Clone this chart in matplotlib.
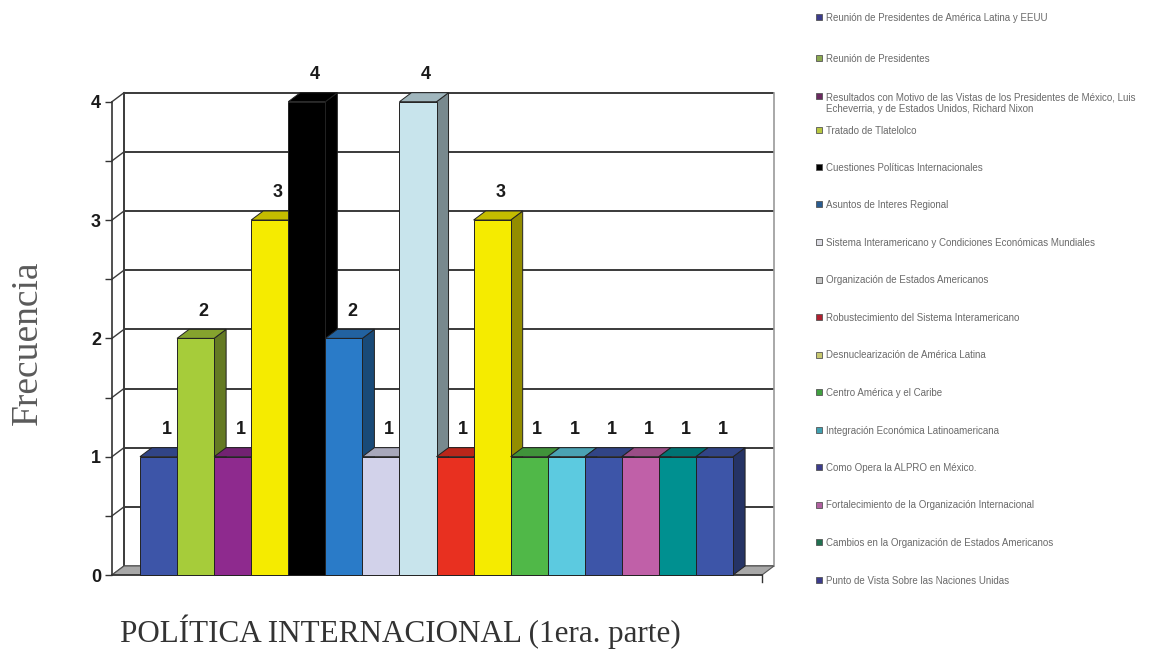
import matplotlib
matplotlib.use("Agg")
import matplotlib.pyplot as plt
from matplotlib.patches import Rectangle, Polygon
from matplotlib import colors as mcolors

# Datos: frecuencia por tema
temas = [
    "Reunión de Presidentes de América Latina y EEUU",
    "Reunión de Presidentes",
    "Resultados con Motivo de las Vistas de los Presidentes de México, Luis\nEcheverria, y de Estados Unidos, Richard Nixon",
    "Tratado de Tlatelolco",
    "Cuestiones Políticas Internacionales",
    "Asuntos de Interes Regional",
    "Sistema Interamericano y Condiciones Económicas Mundiales",
    "Organización de Estados Americanos",
    "Robustecimiento del Sistema Interamericano",
    "Desnuclearización de América Latina",
    "Centro América y el Caribe",
    "Integración Económica Latinoamericana",
    "Como Opera la ALPRO en México.",
    "Fortalecimiento de la Organización Internacional",
    "Cambios en la Organización de Estados Americanos",
    "Punto de Vista Sobre las Naciones Unidas",
]
frecuencias = [1, 2, 1, 3, 4, 2, 1, 4, 1, 3, 1, 1, 1, 1, 1, 1]

colores = ["#3d55a8", "#a6cc3a", "#8e2a8e", "#f5eb00", "#000000", "#2a7bc8",
           "#d2d2ea", "#c8e4ec", "#e83020", "#f5eb00", "#50b848", "#5ccae0",
           "#3d55a8", "#c060a8", "#009090", "#3d55a8"]
colores_leyenda = ["#3c3c8c", "#8caa50", "#6a2a60", "#b8c840", "#000000", "#2a5c90",
                   "#dcdce4", "#c8c8c8", "#b02030", "#c8c870", "#40a040", "#40a0b0",
                   "#3c3c8c", "#b060a0", "#207050", "#3c3c8c"]

W, H = 1154, 657
fig = plt.figure(figsize=(W / 100, H / 100), dpi=100)
ax = fig.add_axes([112 / W, 82 / H, 650 / W, 473.3 / H])
XL, XR = -1.255, 16.28
ax.set_xlim(XL, XR)
ax.set_ylim(0, 4)

# profundidad del efecto 3D (en unidades de datos)
DX, DY = 12 / 37.06, 9 / 118.3


def sombra(c, f):
    r, g, b = mcolors.to_rgb(c)
    return (r * f, g * f, b * f)


# pared del fondo y rejilla
ax.add_patch(Rectangle((XL + DX, DY), XR - XL, 4, facecolor="white",
                       edgecolor="none", zorder=0.5, clip_on=False))
niveles = [k * 0.5 for k in range(9)]
for y in niveles:
    col = "#3a3a3a" if y > 0 else "#777777"
    ax.plot([XL + DX, XR + DX], [y + DY, y + DY], color=col, lw=1.4,
            zorder=1, clip_on=False, solid_capstyle="butt")
    ax.plot([XL, XL + DX], [y, y + DY], color="#3a3a3a", lw=1.0, zorder=1, clip_on=False)
ax.plot([XL + DX, XL + DX], [DY, 4 + DY], color="#3a3a3a", lw=1.4, zorder=1, clip_on=False)
ax.plot([XR + DX, XR + DX], [DY, 4 + DY], color="#9a9a9a", lw=1.2, zorder=1, clip_on=False)

# piso
ax.add_patch(Polygon([(XL, 0), (XR, 0), (XR + DX, DY), (XL + DX, DY)], closed=True,
                     facecolor="#a8a8a8", edgecolor="#555555", lw=0.8, zorder=1.5,
                     clip_on=False))
ax.plot([XL, XR], [0, 0], color="#333333", lw=1.2, zorder=1.6, clip_on=False)
ax.plot([XR, XR], [0, -0.06], color="#333333", lw=1.0, zorder=1.6, clip_on=False)

# barras 3D
for i, (v, c) in enumerate(zip(frecuencias, colores)):
    x0, x1 = i - 0.5, i + 0.5
    ax.text(i + 0.22, v + 0.23, str(v), ha="center", va="center", fontsize=13,
            fontweight="bold", family="Liberation Sans", color="#1a1a1a",
            zorder=2, clip_on=False)
    ax.add_patch(Polygon([(x1, 0), (x1 + DX, DY), (x1 + DX, v + DY), (x1, v)], closed=True,
                         facecolor=sombra(c, 0.6), edgecolor="#222222", lw=0.7,
                         zorder=3, clip_on=False))
    ax.add_patch(Polygon([(x0, v), (x1, v), (x1 + DX, v + DY), (x0 + DX, v + DY)], closed=True,
                         facecolor=sombra(c, 0.8), edgecolor="#222222", lw=0.7,
                         zorder=3, clip_on=False))
    ax.add_patch(Rectangle((x0, 0), 1, v, facecolor=c, edgecolor="#222222", lw=0.7,
                           zorder=3, clip_on=False))

# eje vertical frontal
for s in ["top", "right", "bottom"]:
    ax.spines[s].set_visible(False)
ax.spines["left"].set_color("#333333")
ax.spines["left"].set_linewidth(1.2)
ax.set_xticks([])
ax.set_yticks([0, 1, 2, 3, 4])
ax.set_yticks(niveles, minor=True)
ax.tick_params(axis="y", which="both", length=5, width=1.0, color="#333333", pad=3)
ax.set_yticklabels(["0", "1", "2", "3", "4"], fontsize=13, fontweight="bold",
                   family="Liberation Sans", color="#1a1a1a")
ax.patch.set_visible(False)

# textos
fig.text(28 / W, 1 - 343 / H, "Frecuencia", rotation=90, ha="center", va="center",
         fontsize=27, family="Liberation Serif", color="#5a5a5a")
fig.text(400 / W, 1 - 632 / H, "POLÍTICA INTERNACIONAL (1era. parte)", ha="center",
         va="center", fontsize=22.4, family="Liberation Serif", color="#333333")

# leyenda
pos_leyenda = [17, 58, 96, 130, 167, 204.5, 242, 279.5, 317, 354.5, 392, 429.5,
               467, 504.5, 542, 579.5]
for t, c, yp in zip(temas, colores_leyenda, pos_leyenda):
    fig.patches.append(Rectangle((816 / W, 1 - (yp + 3) / H), 6 / W, 6 / H,
                                 transform=fig.transFigure, facecolor=c,
                                 edgecolor="#555555", lw=0.6))
    fig.text(826 / W, 1 - (yp - 4) / H, t, ha="left", va="top", fontsize=7.0,
             family="Liberation Sans", color="#6a6a6a", linespacing=1.3)

fig.savefig("out.png", dpi=100)
